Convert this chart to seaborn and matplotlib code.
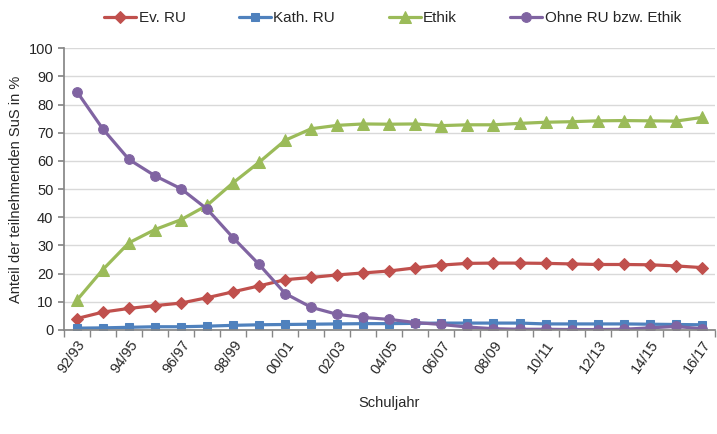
import numpy as np
import pandas as pd
import matplotlib.pyplot as plt
import seaborn as sns

sns.set_theme(style="white")
plt.rcParams["font.family"] = ["Liberation Sans", "DejaVu Sans"]

# Schuljahre 92/93 .. 16/17
years = ["92/93", "93/94", "94/95", "95/96", "96/97", "97/98", "98/99", "99/00",
         "00/01", "01/02", "02/03", "03/04", "04/05", "05/06", "06/07", "07/08",
         "08/09", "09/10", "10/11", "11/12", "12/13", "13/14", "14/15", "15/16",
         "16/17"]

ev_ru = [4.0, 6.3, 7.6, 8.6, 9.5, 11.4, 13.5, 15.6, 17.8, 18.6, 19.5, 20.2, 20.9,
         22.0, 23.0, 23.6, 23.7, 23.7, 23.6, 23.4, 23.2, 23.2, 23.1, 22.7, 22.1]
kath_ru = [0.6, 0.7, 0.9, 1.1, 1.1, 1.3, 1.6, 1.8, 1.9, 2.0, 2.1, 2.2, 2.2,
           2.3, 2.4, 2.4, 2.4, 2.4, 2.1, 2.1, 2.1, 2.1, 2.0, 1.9, 1.8]
ethik = [10.5, 21.4, 30.9, 35.6, 39.1, 44.2, 52.2, 59.5, 67.3, 71.4, 72.6, 73.1, 73.0,
         73.1, 72.5, 72.8, 72.8, 73.3, 73.7, 73.9, 74.2, 74.3, 74.2, 74.1, 75.4]
ohne = [84.6, 71.3, 60.5, 54.7, 50.1, 42.9, 32.7, 23.2, 12.9, 8.0, 5.5, 4.4, 3.7,
        2.6, 1.9, 1.0, 0.4, 0.2, 0.2, 0.1, 0.1, 0.2, 0.7, 1.2, 0.4]

series = {
    "Ev. RU": (ev_ru, "#C0504D", "D", 6),
    "Kath. RU": (kath_ru, "#4F81BD", "s", 6),
    "Ethik": (ethik, "#9BBB59", "^", 8),
    "Ohne RU bzw. Ethik": (ohne, "#8064A2", "o", 7),
}

x = np.arange(len(years))

fig = plt.figure(figsize=(7.17, 4.34), dpi=100)
ax = fig.add_axes([0.089, 0.24, 0.908, 0.649])

for name, (vals, color, marker, ms) in series.items():
    sns.lineplot(x=x, y=vals, ax=ax, color=color, marker=marker, markersize=ms,
                 markeredgecolor=color, linewidth=2.3, label=name)

ax.set_xlim(-0.5, len(years) - 0.5)
ax.set_ylim(0, 100)
ax.set_yticks(range(0, 101, 10))
ax.yaxis.grid(True, color="#D9D9D9", linewidth=1)
ax.xaxis.grid(False)

ax.set_xticks(x[::2])
ax.set_xticklabels(years[::2], rotation=55, ha="right", rotation_mode="anchor")
ax.set_xticks(np.arange(-0.5, len(years), 1), minor=True)
ax.tick_params(axis="x", which="major", length=0, labelsize=10.5, pad=6)
ax.tick_params(axis="x", which="minor", length=5, color="#868686", bottom=True)
ax.tick_params(axis="y", length=4, color="#868686", labelsize=10.5, left=True)

for side in ["top", "right"]:
    ax.spines[side].set_visible(False)
for side in ["left", "bottom"]:
    ax.spines[side].set_color("#868686")

ax.set_xlabel("Schuljahr", fontsize=10.5, labelpad=14)
ax.set_ylabel("Anteil der teilnehmenden SuS in %", fontsize=10.5)

ax.legend(loc="upper center", bbox_to_anchor=(0.505, 1.18), ncol=4, frameon=False,
          fontsize=11, handlelength=2.1, columnspacing=3.5, handletextpad=0.15)

fig.savefig("out.png", dpi=100)
